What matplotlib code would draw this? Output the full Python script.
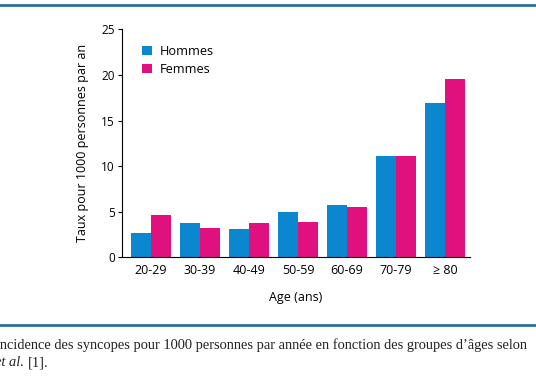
import matplotlib
matplotlib.use('Agg')
import matplotlib.pyplot as plt
import numpy as np
from matplotlib.lines import Line2D

plt.rcParams['font.family'] = ['Open Sans', 'DejaVu Sans']

# data
age_groups = ['20-29', '30-39', '40-49', '50-59', '60-69', '70-79', '≥ 80']
hommes = [2.7, 3.8, 3.1, 5.0, 5.7, 11.1, 16.9]
femmes = [4.6, 3.2, 3.8, 3.9, 5.5, 11.1, 19.5]
y_ticks = [0, 5, 10, 15, 20, 25]

blue = '#0a87cf'
pink = '#e0117f'
rule = '#2f6f9a'

fig = plt.figure(figsize=(5.36, 3.86), dpi=100)
ax = fig.add_axes([0.227, 0.3334, 0.65, 0.5906])

x = np.arange(len(age_groups))
w = 0.415
ax.bar(x - w / 2, hommes, width=w, color=blue, label='Hommes')
ax.bar(x + w / 2, femmes, width=w, color=pink, label='Femmes')

ax.set_xlim(-0.6, 6.51)
ax.set_ylim(0, 25)
ax.set_yticks(y_ticks)
ax.set_xticks(x)
ax.set_xticklabels(age_groups)
ax.tick_params(axis='x', length=0, labelsize=9, pad=5)
ax.tick_params(axis='y', length=3, width=0.8, labelsize=8.5, pad=2)
for side in ['top', 'right']:
    ax.spines[side].set_visible(False)
ax.spines['left'].set_linewidth(0.8)
ax.spines['bottom'].set_linewidth(0.8)

ax.set_ylabel('Taux pour 1000 personnes par an', fontsize=9, labelpad=9)
ax.set_xlabel('Age (ans)', fontsize=9, labelpad=10)

ax.legend(loc='upper left', bbox_to_anchor=(0.045, 0.955), frameon=False,
          fontsize=9.2, handlelength=0.75, handleheight=0.75, handletextpad=0.6,
          labelspacing=0.4, borderaxespad=0)

# horizontal rules of the page layout
fig.add_artist(Line2D([0, 1], [1 - 5 / 386, 1 - 5 / 386], color=rule, linewidth=2))
fig.add_artist(Line2D([0, 1], [1 - 325 / 386, 1 - 325 / 386], color=rule, linewidth=2))

# caption (cropped at the left edge like the source)
cap_font = ['Liberation Serif', 'DejaVu Serif']
fig.text(-0.009, 1 - 345 / 386,
         'Incidence des syncopes pour 1000 personnes par année en fonction des groupes d\u2019âges selon',
         fontsize=10.4, family=cap_font, color='#222222', va='center')
t_al = fig.text(-0.009, 1 - 363 / 386, 'et al.', fontsize=10.4, family=cap_font,
                style='italic', color='#222222', va='center')
ax.annotate('[1].', xy=(1, 0), xycoords=t_al, xytext=(2.5, 0),
            textcoords='offset points', fontsize=10.4, family=cap_font,
            color='#222222', va='bottom', annotation_clip=False)

fig.savefig('out.png', dpi=100)
